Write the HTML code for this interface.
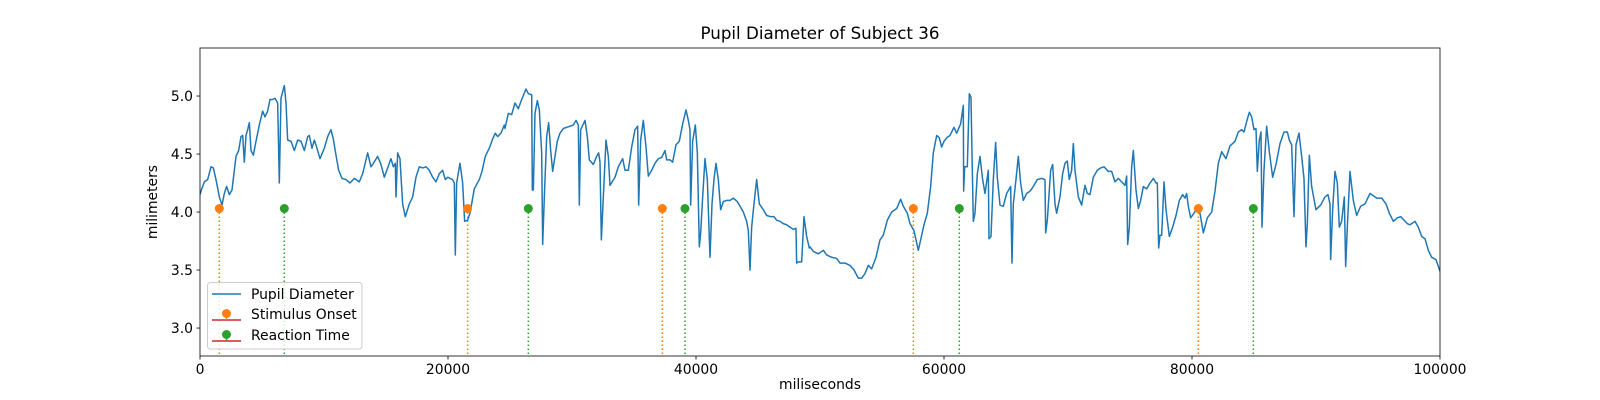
<!DOCTYPE html>
<html><head><meta charset="utf-8"><style>
body{margin:0;background:#fff;}
svg{display:block;font-family:"DejaVu Sans","Liberation Sans",sans-serif;}
</style></head><body>
<svg id="chart" width="1600" height="400" viewBox="0 0 1600 400"></svg>
<script>
const timesMs = [0,80,349,618,887,1075,1290,1559,1774,1962,2150,2365,2580,2903,3118,3306,3440,3575,3709,3843,3978,4112,4300,4515,4784,5053,5241,5456,5644,5859,6048,6263,6397,6531,6800,6935,7069,7338,7607,7875,8144,8413,8682,8816,9031,9219,9407,9676,10026,10294,10563,10751,10967,11182,11450,11773,12096,12445,12848,13117,13520,13789,13923,14326,14595,14864,15133,15402,15590,15751,15805,15939,16127,16343,16558,16880,17149,17418,17687,17955,18224,18493,18762,19031,19299,19568,19783,19971,20160,20374,20509,20590,20697,20966,21181,21342,21584,21772,22122,22525,22740,23009,23331,23600,23815,24003,24272,24541,
24597,24866,25135,25404,25672,25941,26291,26479,26748,26801,26882,27016,27205,27366,27554,27635,27769,27957,28118,28280,28441,28629,28817,29032,29301,29570,29839,30108,30323,30511,30591,30699,31048,31237,31398,31720,31989,32150,32258,32366,32527,32742,32930,33064,33468,33736,34086,34274,34543,34812,35080,35295,35376,35537,35752,35967,36156,36424,36693,36962,37231,37500,37634,37903,38118,38387,38655,38924,39193,39381,39516,39569,39731,39946,40107,40268,40376,40537,40725,40913,41128,41290,41451,41612,41800,41988,42203,42472,42741,43010,43333,43548,43816,44085,44220,44354,44488,44677,44892,45107,45429,45698,46021,46290,46504,46773,47042,47311,47580,47849,48064,48117,48252,48520,48708,48923,49138,
49193,49462,49865,50269,50537,50941,51344,51613,52016,52419,52742,53091,53360,53629,53897,54166,54516,54839,55107,55430,55779,56182,56505,56720,57042,57257,57580,57741,57929,58117,58386,58655,58924,59139,59408,59623,59811,59999,60214,60483,60806,61021,61343,61558,61585,61666,61881,62042,62176,62284,62365,62499,62687,62902,63117,63305,63574,63628,63789,63977,64165,64300,64515,64784,65053,65375,65483,65590,65805,65993,66181,66396,66665,66934,67203,67526,67875,68144,68198,68332,68601,68762,68950,69085,69353,69568,69757,69945,70106,70294,70429,70563,70832,71101,71370,71558,71773,72041,72364,72633,72902,73251,
73522,73791,74059,74328,74597,74731,74812,74946,75135,75269,75484,75672,75860,76075,76344,76613,76882,77097,77204,77312,77419,77554,77742,77903,78172,78441,78710,78978,79247,79435,79570,79704,79892,80161,80376,80645,80914,81236,81586,81855,82123,82392,82742,83064,83468,83736,84005,84193,84408,84623,84811,85000,85161,85268,85430,85564,85645,85806,86021,86236,86505,86774,87097,87419,87688,87849,88037,88225,88386,88628,88843,89031,89192,89300,89461,89649,89998,90375,90724,90966,91128,91181,91343,91531,91719,91880,92069,92284,92392,92526,92741,93010,93279,93601,93951,94354,94623,94892,95295,95645,95914,96236,96559,96828,97097,97366,97580,97983,98252,98521,98790,99058,99327,99677,100000];
const pupilMm = [4.15,4.18,4.26,4.28,4.39,4.38,4.28,4.13,4.06,4.16,4.22,4.15,4.19,4.48,4.53,4.65,4.66,4.43,4.66,4.71,4.77,4.53,4.49,4.61,4.75,4.87,4.82,4.87,4.97,4.97,4.98,4.94,4.25,4.98,5.09,4.94,4.62,4.61,4.53,4.62,4.61,4.53,4.65,4.66,4.55,4.62,4.56,4.46,4.55,4.65,4.71,4.63,4.49,4.36,4.29,4.28,4.25,4.29,4.26,4.33,4.51,4.39,4.41,4.48,4.41,4.30,4.38,4.46,4.39,4.42,4.13,4.51,4.46,4.07,3.96,4.07,4.13,4.30,4.39,4.38,4.39,4.36,4.30,4.26,4.33,4.36,4.28,4.30,4.29,4.28,4.25,3.63,4.25,4.42,4.25,3.92,3.93,3.99,4.20,4.28,4.35,4.48,4.55,4.63,4.68,4.65,4.68,4.75,
4.72,4.85,4.84,4.94,4.89,4.97,5.06,5.02,5.01,4.19,4.19,4.85,4.96,4.88,4.51,3.72,4.13,4.65,4.77,4.53,4.35,4.48,4.61,4.68,4.72,4.73,4.74,4.75,4.79,4.75,4.06,4.71,4.79,4.65,4.45,4.41,4.48,4.51,4.43,3.76,4.13,4.62,4.48,4.23,4.30,4.39,4.46,4.36,4.36,4.56,4.71,4.74,4.06,4.62,4.79,4.56,4.31,4.36,4.42,4.46,4.47,4.53,4.45,4.45,4.43,4.58,4.61,4.76,4.88,4.79,4.71,4.06,4.61,4.75,4.51,3.70,3.82,4.13,4.46,4.28,3.61,4.07,4.28,4.42,4.28,4.02,4.09,4.10,4.10,4.12,4.09,4.05,4.00,3.92,3.84,3.50,3.87,4.07,4.28,4.07,4.02,3.97,3.96,3.96,3.93,3.92,3.90,3.89,3.87,3.85,3.86,3.56,3.57,3.57,3.96,3.79,3.69,
3.70,3.66,3.64,3.67,3.63,3.61,3.60,3.56,3.56,3.54,3.50,3.43,3.43,3.47,3.54,3.51,3.61,3.76,3.80,3.93,4.00,4.03,4.11,4.05,3.99,3.90,3.84,3.76,3.67,3.76,3.89,3.99,4.22,4.51,4.66,4.64,4.56,4.61,4.64,4.66,4.73,4.68,4.76,4.92,4.18,4.39,4.39,5.02,4.99,4.36,3.92,3.99,4.33,4.48,4.28,4.16,4.36,3.77,3.79,4.28,4.60,4.30,4.06,4.05,4.16,4.22,3.56,4.07,4.28,4.48,4.25,4.10,4.16,4.18,4.22,4.28,4.29,4.28,3.82,3.93,4.36,4.41,4.07,3.99,4.13,4.33,4.42,4.44,4.28,4.36,4.59,4.36,4.13,4.06,4.23,4.16,4.15,4.30,4.36,4.38,4.39,4.35,
4.35,4.26,4.29,4.26,4.23,4.31,3.72,3.87,4.39,4.53,4.19,4.03,4.10,4.22,4.20,4.25,4.29,4.25,4.25,3.69,3.80,3.80,4.26,4.02,3.79,3.87,3.97,4.10,4.15,4.12,4.16,4.05,3.95,3.99,4.03,3.99,3.82,3.95,4.00,4.18,4.42,4.52,4.46,4.57,4.61,4.69,4.71,4.69,4.78,4.86,4.82,4.71,4.72,4.35,4.62,4.69,3.87,4.36,4.74,4.52,4.30,4.41,4.59,4.69,4.69,4.62,4.58,3.96,4.58,4.68,4.48,4.29,3.70,3.90,4.49,4.22,4.02,4.06,4.13,4.15,4.07,3.59,4.02,4.35,4.25,3.87,3.92,4.13,3.53,3.87,4.35,4.10,3.97,4.05,4.07,4.16,4.14,4.12,4.12,4.07,3.99,3.92,3.95,3.96,3.93,3.90,3.89,3.92,3.87,3.79,3.77,3.67,3.61,3.59,3.49];
const stimulusMs = [1559,21584,37285,57526,80511];
const stimulusVal = [4.03,4.03,4.03,4.03,4.03];
const reactionMs = [6800,26479,39112,61235,84946];
const reactionVal = [4.03,4.03,4.03,4.03,4.03];
const xTicks = [0,20000,40000,60000,80000,100000];
const yTicks = [3.0,3.5,4.0,4.5,5.0];

const NS='http://www.w3.org/2000/svg';
const svg=document.getElementById('chart');
const L=200,R=1440,T=48,B=356;
const xMin=0,xMax=100000,yMin=2.759,yMax=5.414;
function sx(v){return L+(v-xMin)/(xMax-xMin)*(R-L);}
function sy(v){return B-(v-yMin)/(yMax-yMin)*(B-T);}
function mk(tag,attrs,parent){const e=document.createElementNS(NS,tag);for(const k in attrs)e.setAttribute(k,attrs[k]);(parent||svg).appendChild(e);return e;}

const defs=mk('defs',{});
const cp=mk('clipPath',{id:'clip'},defs);
mk('rect',{x:L,y:T,width:R-L,height:B-T},cp);
const plot=mk('g',{'clip-path':'url(#clip)'});



// stems
function stems(xs,vs,color,name){
  xs.forEach((t,i)=>{
    const l=mk('line',{x1:sx(t),x2:sx(t),y1:sy(vs[i]),y2:B+5,stroke:color,'stroke-width':1.5,'stroke-dasharray':'1.5,2.5'},plot);
    
    
  });
}
stems(stimulusMs,stimulusVal,'#ff7f0e','stimulus-onset');
stems(reactionMs,reactionVal,'#2ca02c','reaction-time');

// line
let d='';
timesMs.forEach((t,i)=>{d+=(i?'L':'M')+sx(t).toFixed(2)+','+sy(pupilMm[i]).toFixed(2);});
const path=mk('path',{d:d,fill:'none',stroke:'#1f77b4','stroke-width':1.5,'stroke-linejoin':'round'},plot);



function dots(xs,vs,color,name){
  xs.forEach((t,i)=>{
    const c=mk('circle',{cx:sx(t),cy:sy(vs[i]),r:4.5,fill:color},plot);
    
    
  });
}
dots(stimulusMs,stimulusVal,'#ff7f0e','stimulus-onset');
dots(reactionMs,reactionVal,'#2ca02c','reaction-time');

// axes frame
const frame=mk('rect',{x:L,y:T,width:R-L,height:B-T,fill:'none',stroke:'#000','stroke-width':0.8});



xTicks.forEach(v=>{
  const x=sx(v);
  mk('line',{x1:x,x2:x,y1:B,y2:B+3.5,stroke:'#000','stroke-width':0.8});
  const t=mk('text',{x:x,y:B+18,'text-anchor':'middle','font-size':13.9,fill:'#000'});
  t.textContent=String(v);
  
  
});
yTicks.forEach(v=>{
  const y=sy(v);
  mk('line',{x1:L-3.5,x2:L,y1:y,y2:y,stroke:'#000','stroke-width':0.8});
  const t=mk('text',{x:L-7,y:y+5,'text-anchor':'end','font-size':13.9,fill:'#000'});
  t.textContent=v.toFixed(1);
  
  
});
</script>
<svg style="position:absolute;left:0;top:0" width="1600" height="400">
  <text x="820" y="39" text-anchor="middle" font-size="16.7" font-family="DejaVu Sans, Liberation Sans, sans-serif">Pupil Diameter of Subject 36</text>
  <text x="820" y="389" text-anchor="middle" font-size="13.9" font-family="DejaVu Sans, Liberation Sans, sans-serif">miliseconds</text>
  <text x="157" y="202" text-anchor="middle" font-size="13.9" font-family="DejaVu Sans, Liberation Sans, sans-serif" transform="rotate(-90 157 202)">milimeters</text>
  <g font-family="DejaVu Sans, Liberation Sans, sans-serif" font-size="13.9">
    <rect x="207.5" y="282.5" width="154.5" height="66.5" rx="3" fill="#fff" fill-opacity="0.8" stroke="#ccc" stroke-width="1"/>
    <g>
      <line x1="212" x2="241" y1="294" y2="294" stroke="#1f77b4" stroke-width="1.5"/>
      <text x="251" y="299">Pupil Diameter</text>
    </g>
    <g>
      <line x1="212" x2="241" y1="320" y2="320" stroke="#d62728" stroke-width="1.5"/>
      <line x1="226.5" x2="226.5" y1="313" y2="320" stroke="#ff7f0e" stroke-width="1.5"/>
      <circle cx="226.5" cy="313.5" r="4.5" fill="#ff7f0e"/>
      <text x="251" y="319">Stimulus Onset</text>
    </g>
    <g>
      <line x1="212" x2="241" y1="341" y2="341" stroke="#d62728" stroke-width="1.5"/>
      <line x1="226.5" x2="226.5" y1="334" y2="341" stroke="#2ca02c" stroke-width="1.5"/>
      <circle cx="226.5" cy="334.5" r="4.5" fill="#2ca02c"/>
      <text x="251" y="340">Reaction Time</text>
    </g>
  </g>
</svg>
</body></html>
